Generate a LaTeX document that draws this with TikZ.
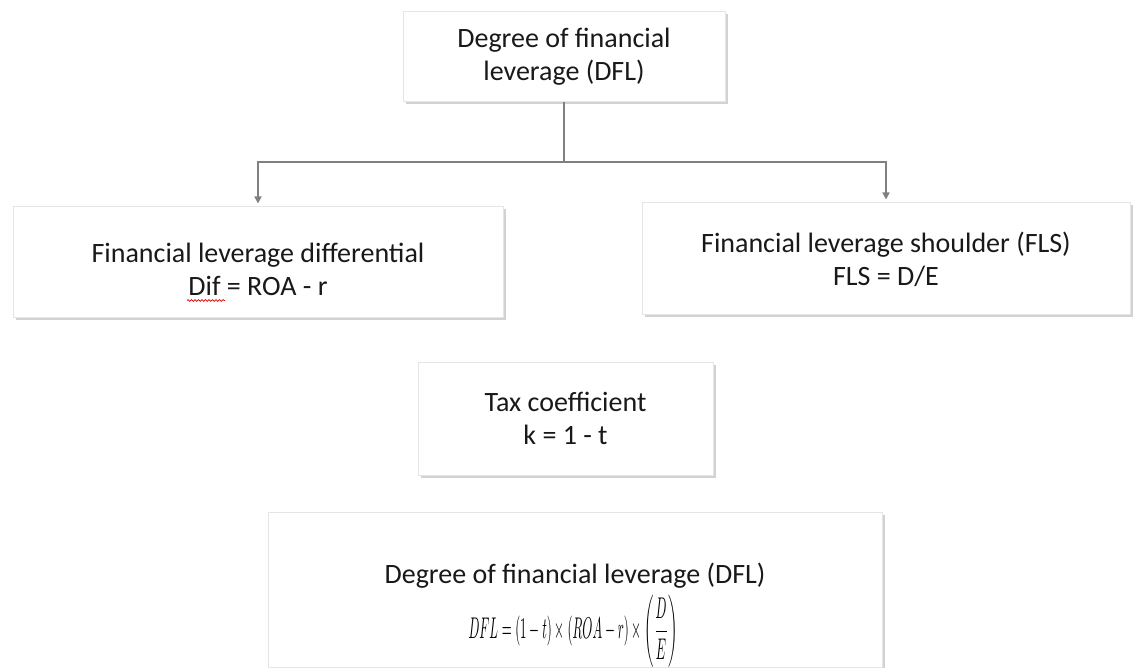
\documentclass[tikz,border=0pt]{standalone}
\usepackage{fontspec}
\setmainfont{Carlito}
\usetikzlibrary{arrows.meta, positioning, shadows, calc, decorations.pathmorphing}

\begin{document}
\begin{tikzpicture}[x=1pt, y=-1pt,
    box/.style = {rectangle, draw=black!10, fill=white, line width=1pt, align=center, text=black!90, font=\fontsize{28}{33}\selectfont, drop shadow={shadow xshift=2.5pt, shadow yshift=-2.5pt, fill=black!35}},
    conn/.style = {draw=black!50, line width=1.5pt, -{Triangle[width=7pt, length=7pt]}, shorten >=3pt},
    spell/.style = {draw=red!85!black, line width=0.7pt, decorate, decoration={snake, amplitude=0.9pt, segment length=3.5pt}}
]
\useasboundingbox (0,0) rectangle (1138,668);

% Boxes
\node (dfl) [box, minimum width=322pt, minimum height=90pt] at (564, 57) {Degree of financial\\leverage (DFL)};
\node (diff) [box, minimum width=490pt, minimum height=111pt] at (258, 262.5) {\rule{0pt}{33pt}Financial leverage differential\\Dif = ROA - r};
\node (fls) [box, minimum width=488pt, minimum height=112pt] at (886, 259) {Financial leverage shoulder (FLS)\\FLS = D/E};
\node (tax) [box, minimum width=295pt, minimum height=113pt] at (565.5, 418.5) {Tax coefficient\\k = 1 - t};
\node (result) [box, minimum width=614pt, minimum height=155pt] at (575, 589.5) {};
\node (resulttitle) [anchor=base, inner sep=0pt, text=black!90, font=\fontsize{28}{33}\selectfont] at (575, 583) {Degree of financial leverage (DFL)};
\node (resultformula) [anchor=north, inner sep=0pt, text=black] at (573, 595)
    {\resizebox*{209pt}{72pt}{$\displaystyle DFL=(1-t)\times(ROA-r)\times\left(\frac{D}{E}\right)$}};

% spell-check mark under "Dif"
\draw [spell] ($(diff.center)+(-71,38)$) -- ++(38,0);

% Connectors
\coordinate (split) at (564, 162);
\draw [conn] (dfl.south) -- (split) -| (diff.north);
\draw [conn] (split) -| (fls.north);

\end{tikzpicture}
\end{document}
